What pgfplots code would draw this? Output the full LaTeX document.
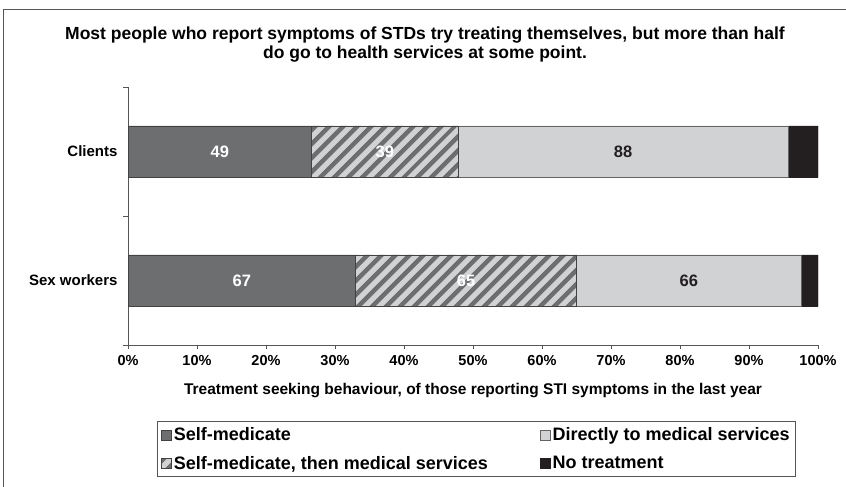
\documentclass[border=0pt]{standalone}
\usepackage{pgfplots}
\pgfplotsset{compat=1.18}
\usepackage{pgfplotstable}
\usepackage{fontspec}
\setmainfont{Liberation Sans}
\usetikzlibrary{patterns.meta}

\definecolor{dgray}{HTML}{6D6E70}
\definecolor{lgray}{HTML}{D1D2D4}
\definecolor{nblack}{HTML}{231F20}
\definecolor{axcol}{HTML}{555555}

% percentages of row total, and counts shown in the bars
\pgfplotstableread{
y pself psm pdir pnone nself nsm ndir nnone
0 33.00 32.02 32.51 2.47 67 65 66 5
1 26.63 21.20 47.83 4.34 49 39 88 8
}\stidata

\begin{document}
\begin{tikzpicture}[x=1pt,y=1pt]
  \useasboundingbox (0,0) rectangle (846,487);
  \draw[axcol, line width=1pt] (3.5,-10) rectangle (900,477);

  \node[align=center, font=\bfseries\fontsize{17.5}{19}\selectfont] at (425,442)
    {Most people who report symptoms of STDs try treating themselves, but more than half\\
     do go to health services at some point.};

  \node[font=\bfseries\fontsize{15.5}{17}\selectfont] at (473,96)
    {Treatment seeking behaviour, of those reporting STI symptoms in the last year};

  \begin{axis}[
      at={(128pt,142pt)}, anchor=south west,
      scale only axis, width=690pt, height=258pt,
      xbar stacked, bar width=51pt,
      xmin=0, xmax=100, ymin=-0.5, ymax=1.5,
      axis x line*=bottom, axis y line*=left,
      axis line style={axcol, line width=0.8pt},
      tick align=outside,
      xtick={0,10,...,100},
      xticklabel={\pgfmathprintnumber{\tick}\%},
      x tick style={axcol, line width=0.8pt},
      major tick length=4pt,
      ytick={0,1}, yticklabels={Sex workers, Clients\hspace{7pt}},
      major y tick style={draw=none},
      minor ytick={-0.5,0.5,1.5},
      minor y tick style={axcol, line width=0.8pt},
      minor tick length=5pt,
      /pgf/number format/assume math mode=true,
      x tick label style={font=\bfseries\fontsize{14.5}{16}\selectfont, yshift=-3pt},
      y tick label style={font=\bfseries\fontsize{15}{17}\selectfont, xshift=-3pt},
      point meta=explicit,
      legend image code/.code={\draw[#1, line width=0.5pt] (0pt,-5pt) rectangle (10pt,5pt);},
      legend columns=2, transpose legend,
      legend cell align=left,
      legend style={at={(0.042,-0.295)}, anchor=north west,
        draw=axcol, line width=0.8pt,
        font=\bfseries\fontsize{18}{20}\selectfont,
        inner xsep=4pt, inner ysep=4pt, row sep=10pt,
        nodes={inner xsep=2pt},
        /tikz/every even column/.append style={column sep=50pt}},
      seg label/.style={
        nodes near coords,
        every node near coord/.append style={anchor=center, #1,
          font=\bfseries\fontsize{16.5}{18}\selectfont}},
    ]
    \addplot[fill=dgray, draw=nblack!85, line width=0.6pt,
      seg label={white}]
      table[x=pself, y=y, meta=nself] {\stidata};
    \addplot[fill=lgray, draw=nblack!85, line width=0.6pt,
      postaction={pattern={Lines[angle=45,distance=10.5pt,line width=4.8pt]}, pattern color=dgray},
      seg label={white}]
      table[x=psm, y=y, meta=nsm] {\stidata};
    \addplot[fill=lgray, draw=nblack!70, line width=0.6pt,
      seg label={nblack}]
      table[x=pdir, y=y, meta=ndir] {\stidata};
    \addplot[fill=nblack, draw=nblack, line width=0.6pt]
      table[x=pnone, y=y, meta=nnone] {\stidata};
    \legend{Self-medicate, Self-medicate{,} then medical services,
      Directly to medical services, No treatment}
  \end{axis}
\end{tikzpicture}
\end{document}
